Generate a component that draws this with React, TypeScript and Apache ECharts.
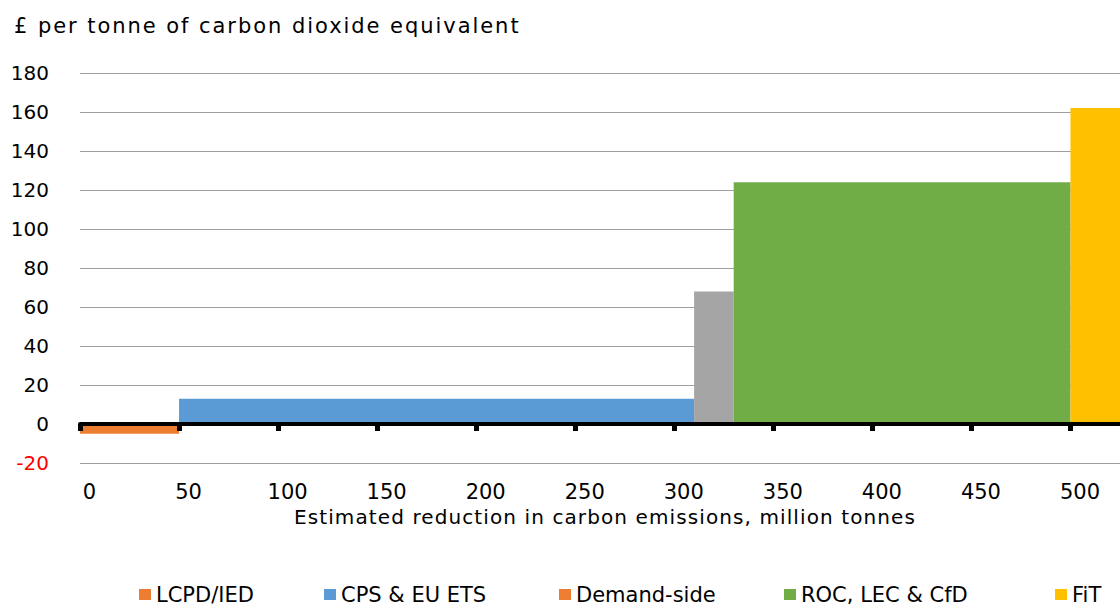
import React, { useEffect, useRef } from "react";
import * as echarts from "echarts";

// Policy blocks: each spans a range of cumulative emission reductions
// (million tonnes) at a given cost (£ per tonne CO2e).
const categories = ["LCPD/IED", "CPS & EU ETS", "Demand-side", "ROC, LEC & CfD", "FiT"];
const rangeStart = [0, 50, 310, 330, 500];
const rangeEnd = [50, 310, 330, 500, 540];
const costPerTonne = [-5, 13, 68, 124, 162];
const barColors = ["#ED7D31", "#5B9BD5", "#A5A5A5", "#70AD47", "#FFC000"];
const legendColors = ["#ED7D31", "#5B9BD5", "#ED7D31", "#70AD47", "#FFC000"];
const legendLeft = [139, 324, 559, 784, 1055];

const xTickValues = [0, 50, 100, 150, 200, 250, 300, 350, 400, 450, 500];
const yMin = -20;
const yMax = 180;
const yStep = 20;

const titleText = "£ per tonne of carbon dioxide equivalent";
const xAxisName = "Estimated reduction in carbon emissions, million tonnes";

const FONT = "DejaVu Sans";

// Extra tracking applied to the wider-set labels after render
const TITLE_TRACKING = 1.95;
const AXIS_NAME_TRACKING = 1.1;

export default function App() {
  const ref = useRef<HTMLDivElement>(null);

  useEffect(() => {
    const host = ref.current;
    if (!host) return;
    const chart = echarts.init(host, undefined, { renderer: "svg" });

    const series = categories.map((name, i) => ({
      type: "custom",
      name,
      clip: true,
      z: 2,
      encode: { x: [0, 1], y: 2 },
      data: [[rangeStart[i], rangeEnd[i], costPerTonne[i]]],
      itemStyle: { color: legendColors[i] },
      renderItem: (params: any, api: any) => {
        const p0 = api.coord([api.value(0), 0]);
        const p1 = api.coord([api.value(1), api.value(2)]);
        const rect = {
          x: p0[0],
          y: Math.min(p0[1], p1[1]),
          width: p1[0] - p0[0],
          height: Math.abs(p1[1] - p0[1]),
        };
        const clipped = echarts.graphic.clipRectByRect(rect, {
          x: params.coordSys.x,
          y: params.coordSys.y,
          width: params.coordSys.width,
          height: params.coordSys.height,
        });
        return clipped
          ? { type: "rect", shape: clipped, style: { fill: barColors[i] } }
          : null;
      },
    }));

    const legends = categories.map((name, i) => ({
      left: legendLeft[i],
      top: 584,
      data: [{ name, itemStyle: { color: legendColors[i] } }],
      icon: "rect",
      itemWidth: 12,
      itemHeight: 11,
      itemGap: 0,
      selectedMode: false,
      padding: 0,
      textStyle: { fontFamily: FONT, fontSize: 21, color: "#000" },
    }));

    chart.setOption({
      animation: false,
      backgroundColor: "#fff",
      textStyle: { fontFamily: FONT },
      title: {
        text: titleText,
        left: 9,
        top: 10,
        textStyle: { fontFamily: FONT, fontSize: 21, fontWeight: "normal", color: "#000" },
      },
      legend: legends,
      grid: { left: 80, right: 0, top: 73, bottom: 144, containLabel: false },
      xAxis: [
        {
          type: "value",
          min: 0,
          max: 525,
          position: "bottom",
          axisLine: { show: false, onZero: false },
          axisTick: { show: false },
          splitLine: { show: false },
          axisLabel: {
            customValues: xTickValues,
            margin: 18,
            fontSize: 21,
            color: "#000",
            fontFamily: FONT,
            padding: [0, 0, 0, 19],
          },
          name: xAxisName,
          nameLocation: "middle",
          nameGap: 35,
          nameTextStyle: { fontFamily: FONT, fontSize: 20, color: "#000", padding: [0, 0, 0, 10] },
        },
        {
          type: "value",
          min: 0,
          max: 525,
          position: "bottom",
          z: 5,
          axisLine: { show: true, onZero: true, lineStyle: { color: "#000", width: 4 } },
          axisTick: {
            show: true,
            customValues: xTickValues,
            length: 7,
            lineStyle: { color: "#000", width: 5 },
          },
          axisLabel: { show: false },
          splitLine: { show: false },
        },
      ],
      yAxis: {
        type: "value",
        min: yMin,
        max: yMax,
        interval: yStep,
        axisLine: { show: false },
        axisTick: { show: false },
        axisLabel: {
          margin: 31,
          fontSize: 20,
          fontFamily: FONT,
          color: (v: any) => (Number(v) < 0 ? "#FF0000" : "#000"),
        },
        splitLine: { show: true, lineStyle: { color: "#A0A0A0", width: 1 } },
      },
      series,
    });

    const applyTracking = () => {
      host.querySelectorAll("text").forEach((t) => {
        const s = t.textContent || "";
        let sp = 0;
        if (s === titleText) sp = TITLE_TRACKING;
        else if (s === xAxisName) sp = AXIS_NAME_TRACKING;
        if (sp) t.setAttribute("letter-spacing", String(sp));
      });
    };
    applyTracking();
    chart.on("finished", applyTracking);

    return () => chart.dispose();
  }, []);

  return (
    <div
      ref={ref}
      style={{ position: "absolute", left: 0, top: 0, width: 1120, height: 607 }}
    />
  );
}
